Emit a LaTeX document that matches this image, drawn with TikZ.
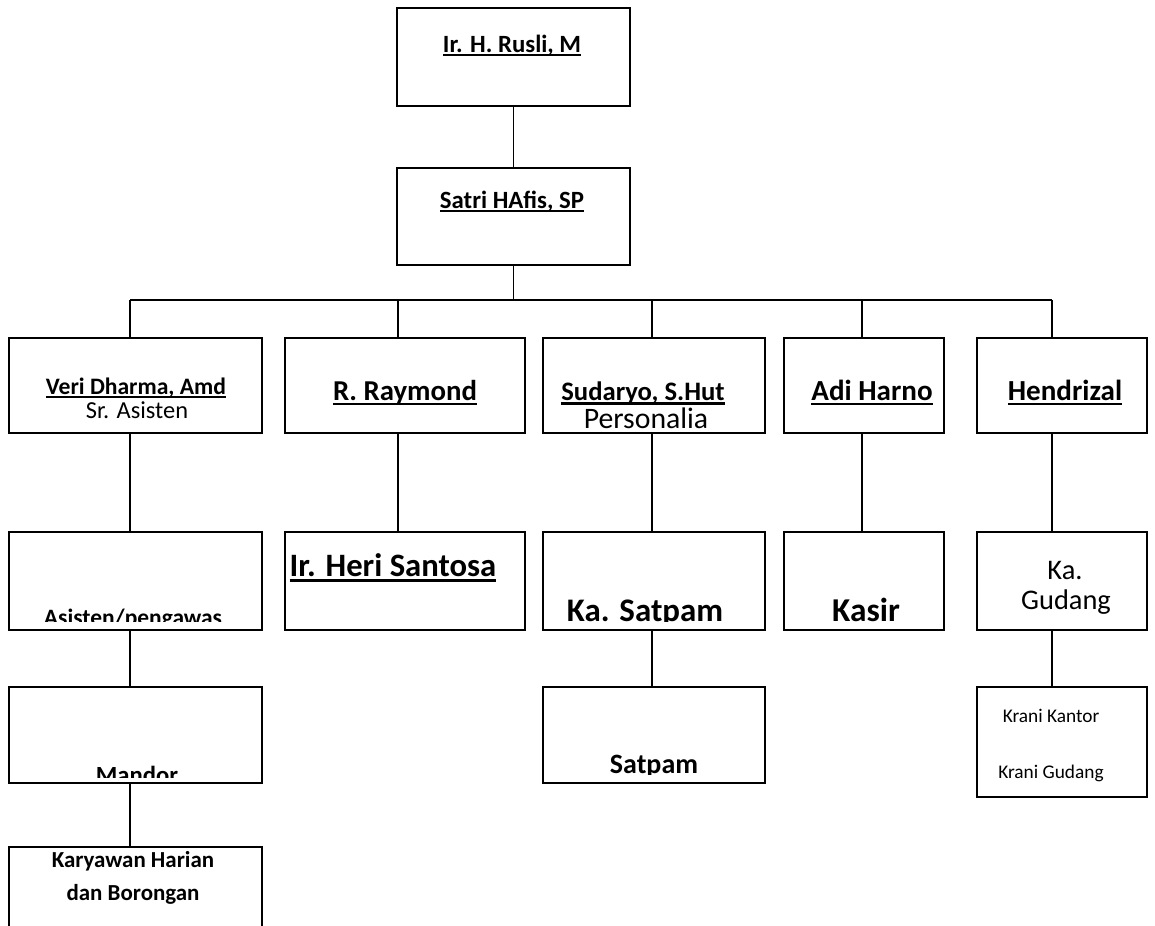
\documentclass[tikz,border=0pt]{standalone}
\usepackage{fontspec}
\setmainfont{Carlito}
\newcommand{\myul}[1]{\setbox0\hbox{#1}\rlap{\rule[-0.17em]{\wd0}{0.08em}}\box0}
\newcommand{\fs}[1]{\fontsize{#1}{#1}\selectfont}
\tikzset{
  boxst/.style={draw=black, line width=1.4pt, rectangle, inner sep=0pt, fill=none},
  conn/.style={draw=black, line width=1.1pt},
  txt/.style={inner sep=0pt, anchor=base, text=black}
}
\newcommand{\orgbox}[5]{\node[boxst, minimum width={(#4-#2)*0.75pt}, minimum height={(#5-#3)*0.75pt}] (#1) at ({(#2+#4)/2},{(#3+#5)/2}) {};}
\begin{document}
\begin{tikzpicture}[x=0.75pt,y=-0.75pt]
\useasboundingbox[fill=white] (0,0) rectangle (1155,925);
% boxes
\orgbox{rusli}{397}{8}{630}{106}
\orgbox{satri}{397}{168}{630}{265}
\orgbox{veri}{9}{338}{262}{433}
\orgbox{raymond}{285}{338}{525}{433}
\orgbox{sudaryo}{543}{338}{765}{433}
\orgbox{adi}{784}{338}{944}{433}
\orgbox{hendrizal}{977}{338}{1147}{433}
\orgbox{asisten}{9}{532}{262}{630}
\orgbox{heri}{285}{532}{525}{630}
\orgbox{kasatpam}{543}{532}{765}{630}
\orgbox{kasir}{784}{532}{944}{630}
\orgbox{kagudang}{977}{532}{1147}{630}
\orgbox{mandor}{9}{687}{262}{783}
\orgbox{satpam}{543}{687}{765}{783}
\orgbox{krani}{977}{687}{1147}{797}
\orgbox{karyawan}{9}{847}{262}{960}
% texts
\node[txt, font=\bfseries\fs{18.6pt}] (t1) at (512,52) {\myul{Ir. H. Rusli, M}};
\node[txt, font=\bfseries\fs{18.6pt}] (t2) at (512,208) {\myul{Satri HAfis, SP}};
\node[txt, font=\bfseries\fs{17.7pt}] (t3) at (136,394) {\myul{Veri Dharma, Amd}};
\node[txt, font=\fs{18.3pt}] (t3b) at (137,418) {Sr. Asisten};
\node[txt, font=\bfseries\fs{21.6pt}] (t4) at (405,400) {\myul{R. Raymond}};
\node[txt, font=\bfseries\fs{20pt}] (t5) at (643,400) {\myul{Sudaryo, S.Hut}};
\begin{scope}
\clip (545,340) rectangle (763,431);
\node[txt, font=\fs{22.3pt}] (t5b) at (646,428) {Personalia};
\end{scope}
\node[txt, font=\bfseries\fs{21.8pt}] (t6) at (872,400) {\myul{Adi Harno}};
\node[txt, font=\bfseries\fs{21.8pt}] (t7) at (1065,400) {\myul{Hendrizal}};
\begin{scope}
\clip (11,534) rectangle (260,621);
\node[txt, font=\bfseries\fs{17.6pt}] (t8) at (133,625) {Asisten/pengawas};
\end{scope}
\node[txt, font=\bfseries\fs{24.5pt}] (t9) at (393,576) {\myul{Ir. Heri Santosa}};
\begin{scope}
\clip (545,534) rectangle (763,621);
\node[txt, font=\bfseries\fs{24.7pt}] (t10) at (645,621) {Ka. Satpam};
\end{scope}
\begin{scope}
\clip (786,534) rectangle (942,621);
\node[txt, font=\bfseries\fs{25pt}] (t11) at (866,621) {Kasir};
\end{scope}
\node[txt, font=\fs{21.3pt}] (t12) at (1065,579) {Ka.};
\node[txt, font=\fs{21.3pt}] (t12b) at (1066,609) {Gudang};
\begin{scope}
\clip (545,689) rectangle (763,774);
\node[txt, font=\bfseries\fs{21pt}] (t13) at (654,773) {Satpam};
\end{scope}
\begin{scope}
\clip (11,689) rectangle (260,777);
\node[txt, font=\bfseries\fs{18.5pt}] (t14) at (137,783) {Mandor};
\end{scope}
\node[txt, font=\fs{14.5pt}] (t15) at (1051,722) {Krani Kantor};
\node[txt, font=\fs{14.5pt}] (t15b) at (1051,778) {Krani Gudang};
\node[txt, font=\bfseries\fs{17.2pt}] (t16) at (133,867) {Karyawan Harian};
\node[txt, font=\bfseries\fs{17.2pt}] (t16b) at (133,900) {dan Borongan};
% connectors
\coordinate (d1) at (130,300);
\coordinate (d2) at (398,300);
\coordinate (d3) at (652,300);
\coordinate (d4) at (862,300);
\coordinate (d5) at (1052,300);
\draw[conn] (rusli.south) -- (satri.north);
\draw[conn] (satri.south) -- (satri.south |- d1);
\draw[conn] (d1) -- (d5);
\draw[conn] (d1) -- (d1 |- veri.north);
\draw[conn] (d2) -- (d2 |- raymond.north);
\draw[conn] (d3) -- (d3 |- sudaryo.north);
\draw[conn] (d4) -- (d4 |- adi.north);
\draw[conn] (d5) -- (d5 |- hendrizal.north);
\draw[conn] (veri.south -| d1) -- (asisten.north -| d1);
\draw[conn] (asisten.south -| d1) -- (mandor.north -| d1);
\draw[conn] (mandor.south -| d1) -- (karyawan.north -| d1);
\draw[conn] (raymond.south -| d2) -- (heri.north -| d2);
\draw[conn] (sudaryo.south -| d3) -- (kasatpam.north -| d3);
\draw[conn] (kasatpam.south -| d3) -- (satpam.north -| d3);
\draw[conn] (adi.south -| d4) -- (kasir.north -| d4);
\draw[conn] (hendrizal.south -| d5) -- (kagudang.north -| d5);
\draw[conn] (kagudang.south -| d5) -- (krani.north -| d5);
\end{tikzpicture}
\end{document}
